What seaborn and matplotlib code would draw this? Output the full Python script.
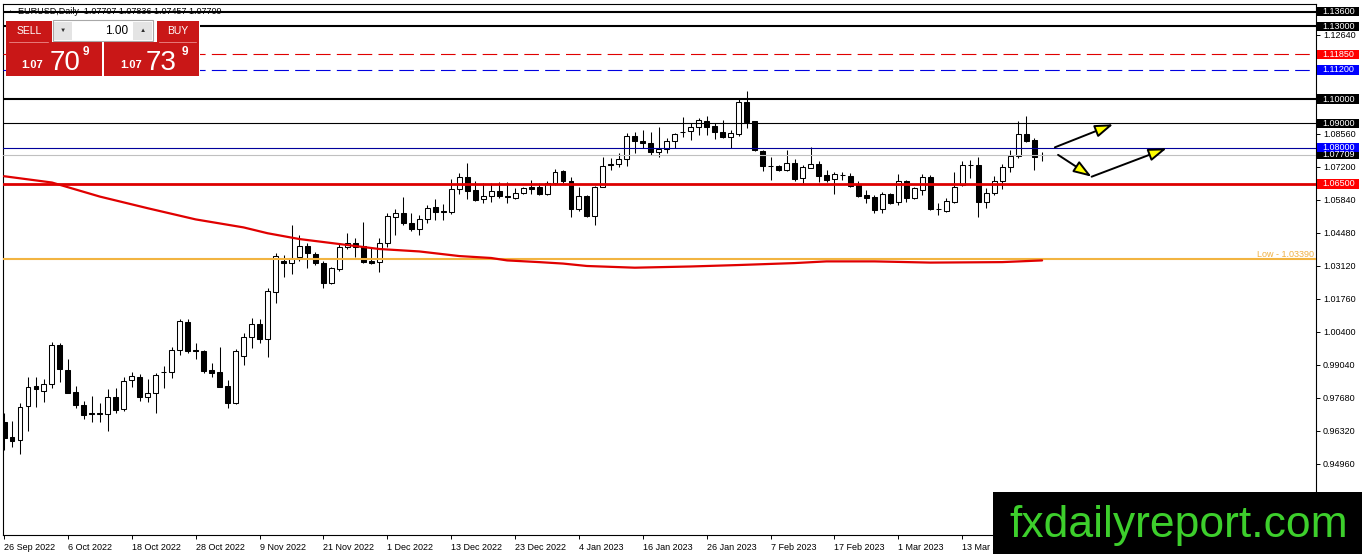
import numpy as np
import matplotlib
matplotlib.use("Agg")
import matplotlib.pyplot as plt
import seaborn as sns
import matplotlib.transforms as mtransforms
from matplotlib.patches import Rectangle, FancyArrowPatch, ArrowStyle

W, H = 1362, 554

# ---------------- data (EURUSD daily, 26 Sep 2022 -> 24 Mar 2023) ----------------
opens = [0.9670, 0.9609, 0.9595, 0.9735, 0.9818, 0.9796, 0.9826, 0.9986, 0.9883, 0.9793,
         0.9738, 0.9705, 0.9705, 0.9702, 0.9773, 0.9723, 0.9841, 0.9856, 0.9771, 0.9787,
         0.9874, 0.9874, 0.9966, 1.0081, 0.9966, 0.9962, 0.9883, 0.9875, 0.9818, 0.9746,
         0.9941, 1.0018, 1.0072, 1.0010, 1.0206, 1.0334, 1.0323, 1.0348, 1.0394, 1.0361,
         1.0323, 1.0241, 1.0300, 1.0391, 1.0408, 1.0394, 1.0334, 1.0327, 1.0405, 1.0515,
         1.0529, 1.0488, 1.0463, 1.0504, 1.0554, 1.0539, 1.0533, 1.0628, 1.0680, 1.0625,
         1.0587, 1.0602, 1.0622, 1.0602, 1.0592, 1.0612, 1.0636, 1.0636, 1.0609, 1.0655,
         1.0704, 1.0663, 1.0546, 1.0602, 1.0519, 1.0639, 1.0732, 1.0731, 1.0753, 1.0849,
         1.0828, 1.0818, 1.0783, 1.0793, 1.0828, 1.0865, 1.0869, 1.0883, 1.0911, 1.0889,
         1.0863, 1.0845, 1.0855, 1.0987, 1.0910, 1.0786, 1.0724, 1.0724, 1.0708, 1.0735,
         1.0673, 1.0717, 1.0733, 1.0687, 1.0669, 1.0687, 1.0684, 1.0649, 1.0605, 1.0595,
         1.0546, 1.0607, 1.0575, 1.0663, 1.0593, 1.0625, 1.0678, 1.0546, 1.0539, 1.0577,
         1.0646, 1.0728, 1.0728, 1.0575, 1.0612, 1.0663, 1.0719, 1.0765, 1.0855, 1.0831,
         1.07707]
highs = [0.9707, 0.9673, 0.9749, 0.9856, 0.9856, 0.9845, 1.0000, 0.9993, 0.9927, 0.9818,
         0.9756, 0.9776, 0.9746, 0.9804, 0.9808, 0.9853, 0.9876, 0.9866, 0.9845, 0.9870,
         0.9901, 0.9979, 1.0092, 1.0094, 0.9996, 0.9966, 0.9911, 0.9979, 0.9842, 0.9969,
         1.0037, 1.0096, 1.0092, 1.0220, 1.0364, 1.0357, 1.0481, 1.0440, 1.0408, 1.0371,
         1.0334, 1.0309, 1.0405, 1.0447, 1.0426, 1.0494, 1.0389, 1.0426, 1.0532, 1.0546,
         1.0595, 1.0532, 1.0522, 1.0563, 1.0587, 1.0567, 1.0669, 1.0694, 1.0738, 1.0662,
         1.0655, 1.0655, 1.0659, 1.0659, 1.0632, 1.0636, 1.0666, 1.0653, 1.0663, 1.0711,
         1.0708, 1.0680, 1.0636, 1.0605, 1.0642, 1.0760, 1.0756, 1.0776, 1.0859, 1.0865,
         1.0872, 1.0865, 1.0886, 1.0838, 1.0859, 1.0927, 1.0902, 1.0921, 1.0930, 1.0900,
         1.0914, 1.0872, 1.1003, 1.1033, 1.0910, 1.0790, 1.0762, 1.0728, 1.0790, 1.0753,
         1.0728, 1.0804, 1.0745, 1.0708, 1.0698, 1.0698, 1.0694, 1.0662, 1.0625, 1.0605,
         1.0618, 1.0612, 1.0690, 1.0666, 1.0639, 1.0690, 1.0687, 1.0570, 1.0591, 1.0698,
         1.0746, 1.0749, 1.0762, 1.0632, 1.0683, 1.0731, 1.0790, 1.0910, 1.0931, 1.0838,
         1.07836]
lows = [0.9554, 0.9567, 0.9536, 0.9633, 0.9732, 0.9753, 0.9808, 0.9835, 0.9787, 0.9726,
        0.9680, 0.9670, 0.9668, 0.9633, 0.9707, 0.9716, 0.9812, 0.9756, 0.9753, 0.9705,
        0.9808, 0.9849, 0.9945, 0.9955, 0.9927, 0.9872, 0.9853, 0.9812, 0.9728, 0.9742,
        0.9904, 0.9973, 0.9993, 0.9936, 1.0161, 1.0268, 1.0278, 1.0334, 1.0302, 1.0316,
        1.0223, 1.0237, 1.0293, 1.0381, 1.0350, 1.0326, 1.0319, 1.0288, 1.0391, 1.0440,
        1.0481, 1.0457, 1.0440, 1.0488, 1.0502, 1.0502, 1.0526, 1.0609, 1.0587, 1.0581,
        1.0573, 1.0577, 1.0591, 1.0570, 1.0587, 1.0609, 1.0609, 1.0605, 1.0605, 1.0646,
        1.0655, 1.0515, 1.0540, 1.0513, 1.0481, 1.0636, 1.0708, 1.0721, 1.0725, 1.0779,
        1.0797, 1.0769, 1.0762, 1.0779, 1.0797, 1.0845, 1.0831, 1.0852, 1.0852, 1.0834,
        1.0838, 1.0797, 1.0849, 1.0882, 1.0786, 1.0704, 1.0666, 1.0704, 1.0704, 1.0662,
        1.0653, 1.0715, 1.0659, 1.0659, 1.0610, 1.0666, 1.0639, 1.0598, 1.0573, 1.0529,
        1.0529, 1.0569, 1.0563, 1.0575, 1.0587, 1.0605, 1.0543, 1.0522, 1.0536, 1.0570,
        1.0643, 1.0676, 1.0515, 1.0550, 1.0605, 1.0629, 1.0701, 1.0756, 1.0822, 1.0708,
        1.07457]
closes = [0.9602, 0.9592, 0.9732, 0.9812, 0.9804, 0.9826, 0.9986, 0.9886, 0.9790, 0.9738,
          0.9699, 0.9702, 0.9703, 0.9773, 0.9719, 0.9839, 0.9859, 0.9771, 0.9787, 0.9863,
          0.9874, 0.9966, 1.0085, 0.9963, 0.9963, 0.9881, 0.9872, 0.9815, 0.9746, 0.9962,
          1.0018, 1.0072, 1.0011, 1.0209, 1.0353, 1.0323, 1.0346, 1.0394, 1.0364, 1.0323,
          1.0241, 1.0302, 1.0391, 1.0408, 1.0391, 1.0330, 1.0323, 1.0405, 1.0518, 1.0529,
          1.0488, 1.0463, 1.0504, 1.0550, 1.0536, 1.0533, 1.0628, 1.0680, 1.0622, 1.0584,
          1.0602, 1.0622, 1.0602, 1.0595, 1.0612, 1.0632, 1.0631, 1.0609, 1.0655, 1.0701,
          1.0663, 1.0546, 1.0602, 1.0518, 1.0639, 1.0725, 1.0727, 1.0753, 1.0849, 1.0828,
          1.0818, 1.0783, 1.0793, 1.0828, 1.0856, 1.0865, 1.0883, 1.0914, 1.0886, 1.0865,
          1.0842, 1.0859, 1.0987, 1.0907, 1.0790, 1.0724, 1.0724, 1.0708, 1.0735, 1.0669,
          1.0720, 1.0733, 1.0684, 1.0666, 1.0690, 1.0687, 1.0643, 1.0602, 1.0593, 1.0543,
          1.0607, 1.0573, 1.0663, 1.0593, 1.0632, 1.0678, 1.0546, 1.0546, 1.0580, 1.0639,
          1.0728, 1.0728, 1.0575, 1.0612, 1.0663, 1.0721, 1.0765, 1.0855, 1.0828, 1.0760,
          1.07709]

# moving average line, read at selected bars
ma_idx = [0, 6, 12, 18, 24, 30, 33, 37, 47, 52, 57, 61, 63, 67, 70, 73, 79, 86, 92, 99,
          103, 109, 116, 125, 130]
ma_val = [1.0682, 1.0656, 1.0598, 1.0550, 1.0504, 1.0471, 1.0447, 1.0423, 1.0382, 1.0372,
          1.0353, 1.0345, 1.0335, 1.0328, 1.0322, 1.0312, 1.0305, 1.0310, 1.0316, 1.0324,
          1.0331, 1.0331, 1.0326, 1.0328, 1.0335]

tick_pos = [0, 8, 16, 24, 32, 40, 48, 56, 64, 72, 80, 88, 96, 104, 112, 120]
tick_labels = ["26 Sep 2022", "6 Oct 2022", "18 Oct 2022", "28 Oct 2022", "9 Nov 2022",
               "21 Nov 2022", "1 Dec 2022", "13 Dec 2022", "23 Dec 2022", "4 Jan 2023",
               "16 Jan 2023", "26 Jan 2023", "7 Feb 2023", "17 Feb 2023", "1 Mar 2023",
               "13 Mar 2023"]
ytick_vals = [1.12640, 1.08560, 1.07200, 1.05840, 1.04480, 1.03120, 1.01760, 1.00400,
              0.99040, 0.97680, 0.96320, 0.94960]

# horizontal levels: value, colour, width(pt), style
level_vals = [1.13600, 1.13000, 1.11850, 1.11200, 1.10000, 1.09000, 1.08000, 1.07709, 1.06500]
level_colors = ["#000000", "#000000", "#e00000", "#0000e0", "#000000", "#000000", "#00009c",
                "#c0c0c0", "#dd0000"]
level_widths = [1.5, 1.5, 0.8, 0.8, 1.5, 0.8, 0.8, 0.8, 2.0]
level_styles = ["-", "-", "dash", "dash", "-", "-", "-", "-", "-"]
label_colors = ["#000000", "#000000", "#ff0000", "#0000ff", "#000000", "#000000", "#0000ff",
                "#000000", "#ff0000"]
low_level = 1.03390

# arrows (bar index, price)
arrow_from_x = [131.6, 132.0, 136.2]
arrow_from_y = [1.0801, 1.0770, 1.0680]
arrow_to_x = [138.9, 136.2, 145.6]
arrow_to_y = [1.0896, 1.0680, 1.0797]

# ---------------- style ----------------
sns.set_style("white")
plt.rcParams['font.family'] = ['Liberation Sans', 'DejaVu Sans']
plt.rcParams['lines.scale_dashes'] = False

fig = plt.figure(figsize=(W / 100, H / 100), dpi=100)
fig.patch.set_facecolor("white")
ax = fig.add_axes([3 / W, 1 - 535 / H, 1313 / W, 531 / H])
ax.set_facecolor("white")

n = len(opens)
x = np.arange(n)
o = np.array(opens); c = np.array(closes); hi = np.array(highs); lo = np.array(lows)
up = c >= o
bottom = np.minimum(o, c)
height = np.maximum(np.abs(c - o), 0.00004)

ax.vlines(x, lo, hi, color="black", lw=0.75, zorder=4)
ax.bar(x[up], height[up], bottom=bottom[up], width=0.62, color="white",
       edgecolor="black", linewidth=0.75, zorder=5)
ax.bar(x[~up], height[~up], bottom=bottom[~up], width=0.62, color="black",
       edgecolor="black", linewidth=0.75, zorder=5)

for v, col, lw, st in zip(level_vals, level_colors, level_widths, level_styles):
    ls = (0, (10.5, 4.5)) if st == "dash" else "-"
    ax.axhline(v, color=col, lw=lw, ls=ls, zorder=6)
ax.axhline(low_level, color="#f2b441", lw=1.5, zorder=6)

sns.lineplot(x=ma_idx, y=ma_val, ax=ax, color="#e00000", lw=1.6, zorder=7)

for x0, y0, x1, y1 in zip(arrow_from_x, arrow_from_y, arrow_to_x, arrow_to_y):
    ar = FancyArrowPatch((x0, y0), (x1, y1),
                         arrowstyle=ArrowStyle("-|>", head_length=11, head_width=3.8),
                         mutation_scale=1, shrinkA=0, shrinkB=0,
                         facecolor="#ffff00", edgecolor="black", lw=1.4, zorder=9)
    ax.add_patch(ar)

ax.set_xlim(-0.13, 164.3)
ax.set_ylim(0.92034, 1.13917)

# axes styling
for sp in ax.spines.values():
    sp.set_visible(True)
    sp.set_color("black")
    sp.set_linewidth(0.8)
ax.yaxis.tick_right()
ax.set_yticks(ytick_vals)
ax.set_yticklabels([f"{v:.5f}" for v in ytick_vals])
ax.set_xticks(tick_pos)
ax.set_xticklabels(tick_labels, ha="left")
ax.tick_params(axis="y", direction="out", length=3, width=0.7, pad=2,
               labelsize=6.5, colors="black", right=True, left=False)
ax.tick_params(axis="x", direction="out", length=3, width=0.7, pad=2.5,
               labelsize=6.5, colors="black", bottom=True)
ax.set_xlabel(""); ax.set_ylabel("")
ax.grid(False)

# price labels on the right axis
blend = mtransforms.blended_transform_factory(ax.transAxes, ax.transData)
hh = 4.6 * 0.000412
order = [7, 0, 1, 2, 3, 4, 5, 6, 8]
for i in order:
    v = level_vals[i]
    ax.add_patch(Rectangle((1.0008, v - hh), 0.0318, 2 * hh, transform=blend,
                           facecolor=label_colors[i], edgecolor="none",
                           clip_on=False, zorder=10))
    ax.text(1.0046, v, f"{v:.5f}", transform=blend, ha="left", va="center",
            fontsize=6.5, color="white", clip_on=False, zorder=11)

ax.text(0.9985, low_level + 0.0003, f"Low - {low_level:.5f}", transform=blend,
        ha="right", va="bottom", fontsize=6.5, color="#f0b040", zorder=8)


# ---------------- overlays in figure pixel coordinates ----------------
def fx(px):
    return px / W


def fy(py):
    return 1 - py / H


def frect(x0, y0, x1, y1, **kw):
    fig.add_artist(Rectangle((fx(x0), fy(y1)), (x1 - x0) / W, (y1 - y0) / H,
                             transform=fig.transFigure, **kw))


def ftext(px, py, s, **kw):
    fig.text(fx(px), fy(py), s, **kw)


# title
ftext(7, 11.5, "▲", fontsize=3.5, color="black", va="center", ha="left")
ftext(18, 11.5, "EURUSD,Daily  1.07707 1.07836 1.07457 1.07709", fontsize=6.5,
      color="black", va="center", ha="left")

# trade panel
red = "#c91717"
frect(6, 20, 199.5, 76.5, facecolor="white", edgecolor="none", zorder=20)
frect(6, 20.7, 51.7, 42.5, facecolor=red, edgecolor="none", zorder=21)
frect(6, 42.3, 101.7, 76, facecolor=red, edgecolor="none", zorder=21)
frect(156.7, 20.7, 199, 42.5, facecolor=red, edgecolor="none", zorder=21)
frect(104, 42.3, 199, 76, facecolor=red, edgecolor="none", zorder=21)
fig.add_artist(plt.Line2D([fx(9), fx(48)], [fy(42), fy(42)], color="#e77b7b", lw=0.7,
                          transform=fig.transFigure, zorder=22))
fig.add_artist(plt.Line2D([fx(159), fx(196)], [fy(42), fy(42)], color="#e77b7b", lw=0.7,
                          transform=fig.transFigure, zorder=22))
frect(52.5, 20.5, 152.5, 40.8, facecolor="white", edgecolor="#a8a8a8", lw=0.8, zorder=21)
frect(53.5, 21.5, 72, 39.8, facecolor="#e4e4e4", edgecolor="none", zorder=22)
frect(133, 21.5, 151.5, 39.8, facecolor="#e4e4e4", edgecolor="none", zorder=22)
ftext(62.8, 30.5, "▼", fontsize=4.5, color="#303030", ha="center", va="center", zorder=23)
ftext(142.3, 30.5, "▲", fontsize=4.5, color="#303030", ha="center", va="center", zorder=23)
ftext(128, 30.5, "1.00", fontsize=8.5, color="black", ha="right", va="center", zorder=23)
ftext(28.8, 31.5, "SELL", fontsize=7.5, color="white", ha="center", va="center", zorder=23)
ftext(177.8, 31.5, "BUY", fontsize=7.5, color="white", ha="center", va="center", zorder=23)

ftext(21.5, 68.5, "1.07", fontsize=8, fontweight="bold", color="white", ha="left",
      va="baseline", zorder=23)
ftext(49.5, 70, "70", fontsize=20, color="white", ha="left", va="baseline", zorder=23)
ftext(83, 55, "9", fontsize=8.5, fontweight="bold", color="white", ha="left",
      va="baseline", zorder=23)
ftext(120, 68.5, "1.07", fontsize=8, fontweight="bold", color="white", ha="left",
      va="baseline", zorder=23)
ftext(146, 70, "73", fontsize=20, color="white", ha="left", va="baseline", zorder=23)
ftext(182, 55, "9", fontsize=8.5, fontweight="bold", color="white", ha="left",
      va="baseline", zorder=23)

# watermark
frect(993, 492, 1362, 554, facecolor="black", edgecolor="none", zorder=30)
ftext(1009, 537, "fxdailyreport.com", fontsize=32, color="#3dcf2c", ha="left",
      va="baseline", zorder=31)

fig.savefig("out.png", dpi=100, facecolor="white")
